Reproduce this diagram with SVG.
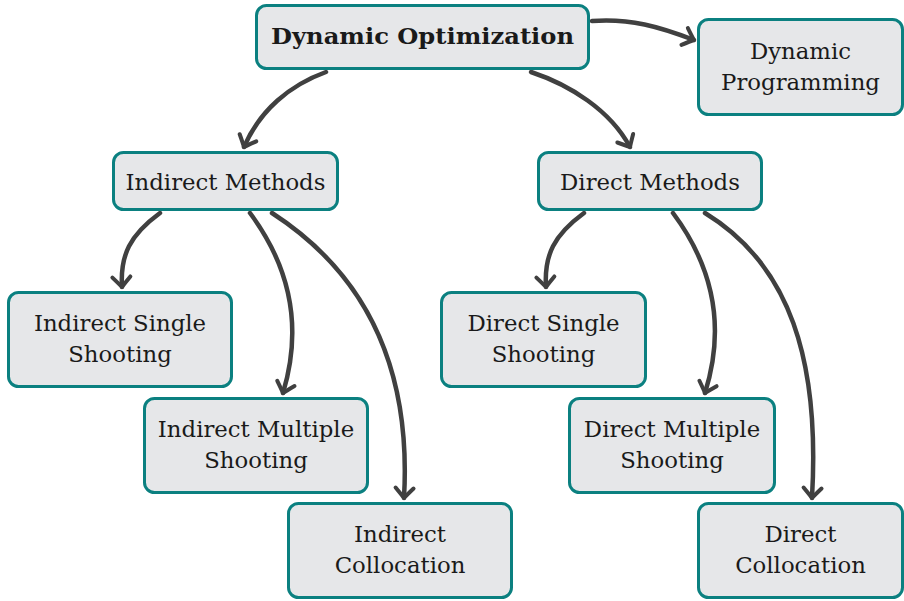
<svg xmlns="http://www.w3.org/2000/svg" width="904" height="601" viewBox="0 0 904 601">
<style>
.box{fill:#e6e7e9;stroke:#0b8080;stroke-width:3}
.t{font-family:"DejaVu Serif","Liberation Serif",serif;font-size:22.8px;fill:#1a1a1a;text-anchor:middle}
.b{font-weight:bold;font-size:22.5px}
.c{fill:none;stroke:#404040;stroke-width:4.5;stroke-linecap:round}
</style>
<defs>
<marker id="arr" markerUnits="userSpaceOnUse" viewBox="-14 -12 16 24" markerWidth="16" markerHeight="24" refX="0" refY="0" orient="auto" overflow="visible">
<path d="M-10,-9 Q-3,-2.5 0,0 Q-3,2.5 -10,9" fill="none" stroke="#404040" stroke-width="4" stroke-linecap="round" stroke-linejoin="round"/>
</marker>
</defs>
<g id="connectors">
<path class="c" marker-end="url(#arr)" d="M592,21 C630,18 660,27 694,40"/>
<path class="c" marker-end="url(#arr)" d="M326,72 C290,85 260,110 244,147"/>
<path class="c" marker-end="url(#arr)" d="M531,72 C570,85 610,110 630,147"/>
<path class="c" marker-end="url(#arr)" d="M160,213 C130,235 120,255 122,287"/>
<path class="c" marker-end="url(#arr)" d="M250,213 C285,260 305,320 283,393"/>
<path class="c" marker-end="url(#arr)" d="M272,213 C360,270 412,360 404,498"/>
<path class="c" marker-end="url(#arr)" d="M584,213 C554,235 544,255 546,287"/>
<path class="c" marker-end="url(#arr)" d="M673,213 C708,260 728,320 705,393"/>
<path class="c" marker-end="url(#arr)" d="M705,213 C790,265 820,360 812,498"/>
</g>
<g id="dynamic-optimization"><rect class="box" x="256.5" y="5.5" width="332" height="63" rx="10"/><text class="t b" x="422.5" y="44" textLength="303" lengthAdjust="spacingAndGlyphs">Dynamic Optimization</text></g>
<g id="dynamic-programming"><rect class="box" x="698.5" y="19.5" width="204" height="95" rx="10"/><text class="t" x="800.5" y="59">Dynamic</text><text class="t" x="800.5" y="90">Programming</text></g>
<g id="indirect-methods"><rect class="box" x="113.5" y="152.5" width="224" height="57" rx="10"/><text class="t" x="225.5" y="190">Indirect Methods</text></g>
<g id="direct-methods"><rect class="box" x="538.5" y="152.5" width="223" height="57" rx="10"/><text class="t" x="650" y="190">Direct Methods</text></g>
<g id="indirect-single-shooting"><rect class="box" x="8.5" y="292.5" width="223" height="94" rx="10"/><text class="t" x="120" y="331">Indirect Single</text><text class="t" x="120" y="362">Shooting</text></g>
<g id="indirect-multiple-shooting"><rect class="box" x="144.5" y="398.5" width="223" height="94" rx="10"/><text class="t" x="256" y="437">Indirect Multiple</text><text class="t" x="256" y="468">Shooting</text></g>
<g id="indirect-collocation"><rect class="box" x="288.5" y="503.5" width="223" height="94" rx="10"/><text class="t" x="400" y="542">Indirect</text><text class="t" x="400" y="573">Collocation</text></g>
<g id="direct-single-shooting"><rect class="box" x="441.5" y="292.5" width="204" height="94" rx="10"/><text class="t" x="543.5" y="331">Direct Single</text><text class="t" x="543.5" y="362">Shooting</text></g>
<g id="direct-multiple-shooting"><rect class="box" x="569.5" y="398.5" width="205" height="94" rx="10"/><text class="t" x="672" y="437">Direct Multiple</text><text class="t" x="672" y="468">Shooting</text></g>
<g id="direct-collocation"><rect class="box" x="698.5" y="503.5" width="204" height="94" rx="10"/><text class="t" x="800.5" y="542">Direct</text><text class="t" x="800.5" y="573">Collocation</text></g>
</svg>
